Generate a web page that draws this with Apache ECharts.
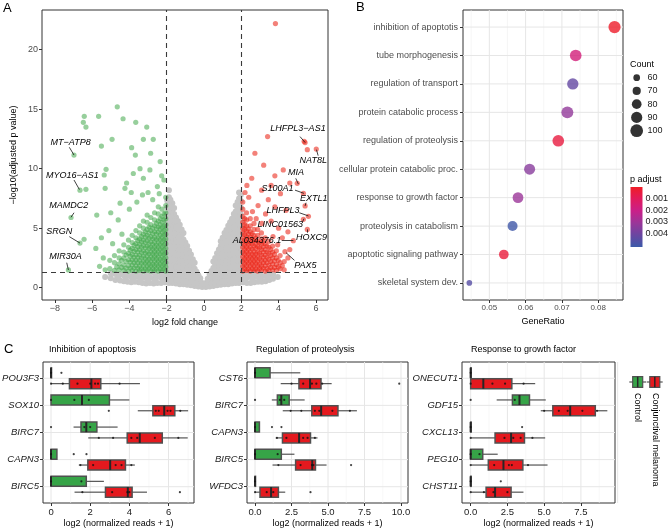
<!DOCTYPE html>
<html><head><meta charset="utf-8">
<script src="https://cdn.jsdelivr.net/npm/echarts@6/dist/echarts.min.js"></script>
<style>html,body{margin:0;padding:0;background:#fff}#c{width:669px;height:532px}</style>
</head><body><div id="c"></div>
<script>
const FONT = '"Liberation Sans", Arial, sans-serif';

// ===== Panel A: volcano =====
const fcCut = [-2, 2];
const padjCut = 1.3;
const volcanoXTicks = [-8, -6, -4, -2, 0, 2, 4, 6];
const volcanoYTicks = [0, 5, 10, 15, 20];
const grayCols = [
  [-0.1,[0.05,0.4]],[-0.3,[0.1,0.55,1.05]],[-0.5,[0.15,0.6,1.1,1.6,2.1]],[-0.7,[0.2,0.7,1.2,1.75,2.3,2.8]],
  [-0.9,[0.25,0.75,1.3,1.85,2.4,2.95,3.5]],[-1.1,[0.3,0.8,1.3,1.85,2.4,2.95,3.5,4.05,4.6]],
  [-1.3,[0.3,0.85,1.4,1.95,2.5,3.05,3.6,4.15,4.7,5.3]],[-1.5,[0.35,0.9,1.45,2.0,2.55,3.1,3.65,4.2,4.75,5.3,5.9]],
  [-1.7,[0.4,0.9,1.45,2.0,2.6,3.15,3.7,4.25,4.8,5.35,5.9,6.5,7.1]],
  [-1.88,[0.4,0.95,1.5,2.05,2.6,3.15,3.7,4.25,4.8,5.35,5.9,6.45,7.0,7.6,8.2]],
  [-0.2,[0.3,0.8]],[-0.4,[0.35,0.85,1.35]],[-0.6,[0.4,0.9,1.4,1.9,2.4]],[-0.8,[0.45,0.95,1.5,2.05,2.6,3.1]],
  [-1.0,[0.5,1.05,1.6,2.15,2.7,3.25,3.8]],[-1.2,[0.55,1.1,1.65,2.2,2.75,3.3,3.85,4.4,4.9]],
  [-1.4,[0.6,1.15,1.7,2.25,2.8,3.35,3.9,4.45,5.0,5.6]],[-1.6,[0.65,1.2,1.75,2.3,2.85,3.4,3.95,4.5,5.05,5.6,6.2,6.7]],
  [-1.8,[0.65,1.2,1.75,2.3,2.9,3.45,4.0,4.55,5.1,5.65,6.2,6.8,7.4]],
  [-1.97,[0.7,1.2,1.8,2.35,2.9,3.45,4.0,4.55,5.1,5.65,6.2,6.75,7.3]],
  [-2.1,[0.45,0.95]],[-2.3,[0.4,0.85,1.25]],[-2.5,[0.4,0.9]],[-2.7,[0.35,0.8,1.25]],[-2.9,[0.4,0.85]],
  [-3.1,[0.35,0.8,1.2]],[-3.3,[0.4,0.85]],[-3.5,[0.45,0.9,1.25]],[-3.7,[0.5,0.95]],[-3.9,[0.45,0.9]],
  [-4.1,[0.5,1.0]],[-4.3,[0.55,1.05]],[-4.5,[0.6,1.1]],[-4.75,[0.65,1.15]],[-5.0,[0.8,1.2]],[-5.3,[0.9]],
  [-2.2,[0.65,1.1]],[-2.6,[0.6,1.1]],[-3.0,[0.6,1.05]],[-3.4,[0.65,1.1]],[-3.8,[0.7,1.15]],[-4.2,[0.75,1.2]],[-4.6,[0.85]],
  [0.1,[0.05,0.4]],[0.3,[0.1,0.55,1.1]],[0.5,[0.15,0.6,1.1,1.65,2.2]],[0.7,[0.2,0.7,1.2,1.75,2.3,2.9]],
  [0.9,[0.25,0.75,1.3,1.85,2.4,2.95,3.5,3.9]],[1.1,[0.3,0.8,1.35,1.9,2.45,3.0,3.55,4.1,4.6]],
  [1.3,[0.3,0.85,1.4,1.95,2.5,3.05,3.6,4.15,4.7,5.2]],[1.5,[0.35,0.9,1.45,2.0,2.55,3.1,3.65,4.2,4.75,5.3,5.8]],
  [1.7,[0.4,0.9,1.45,2.0,2.55,3.1,3.65,4.2,4.75,5.3,5.85,6.4,6.9]],
  [1.88,[0.4,0.95,1.5,2.05,2.6,3.15,3.7,4.25,4.8,5.35,5.9,6.45,7.0,7.5,8.0]],
  [0.2,[0.3,0.75]],[0.4,[0.35,0.85,1.4]],[0.6,[0.4,0.9,1.4,1.95,2.5]],[0.8,[0.45,0.95,1.5,2.05,2.6,3.2]],
  [1.0,[0.5,1.05,1.6,2.15,2.7,3.25,3.8,4.2]],[1.2,[0.55,1.1,1.65,2.2,2.75,3.3,3.85,4.4,4.85]],
  [1.4,[0.6,1.15,1.7,2.25,2.8,3.35,3.9,4.45,5.0,5.5]],[1.6,[0.65,1.2,1.75,2.3,2.85,3.4,3.95,4.5,5.05,5.6,6.2]],
  [1.8,[0.65,1.2,1.75,2.3,2.9,3.45,4.0,4.55,5.1,5.65,6.2,6.7,7.2]],
  [1.97,[0.7,1.2,1.8,2.35,2.9,3.45,4.0,4.55,5.1,5.65,6.2,6.75,7.3,7.8]],
  [2.1,[0.45,0.95]],[2.3,[0.4,0.85,1.25]],[2.5,[0.4,0.9]],[2.7,[0.45,0.9,1.25]],[2.9,[0.5,0.95]],
  [3.1,[0.5,0.95]],[3.3,[0.55,1.0]],[3.5,[0.65,1.1]],[3.7,[0.75,1.15]],[3.95,[0.9]],
  [2.2,[0.65,1.1]],[2.6,[0.65,1.1]],[3.0,[0.7,1.15]],[3.4,[0.8,1.2]]
];
const greenCols = [
  [-2.05,[1.4,1.75,2.1,2.5,2.9,3.3,3.7,4.1,4.5,4.9,5.3,5.8,6.3,6.9,7.6]],
  [-2.25,[1.45,1.85,2.25,2.65,3.05,3.45,3.85,4.25,4.65,5.05,5.5,6.0,6.6]],
  [-2.45,[1.4,1.8,2.2,2.6,3.0,3.4,3.8,4.2,4.65,5.1,5.6,6.2,6.8]],
  [-2.65,[1.45,1.85,2.25,2.65,3.05,3.45,3.85,4.25,4.7,5.2,5.7,6.3]],
  [-2.85,[1.4,1.8,2.2,2.6,3.0,3.4,3.85,4.3,4.8,5.3,5.9]],
  [-3.05,[1.45,1.85,2.25,2.65,3.05,3.5,3.95,4.4,4.9,5.5,6.1]],
  [-3.25,[1.4,1.8,2.2,2.65,3.1,3.55,4.0,4.5,5.0,5.6]],
  [-3.45,[1.45,1.85,2.3,2.75,3.2,3.65,4.1,4.6,5.2]],
  [-3.65,[1.4,1.85,2.3,2.75,3.2,3.7,4.2,4.8]],
  [-3.85,[1.45,1.9,2.35,2.8,3.3,3.8,4.4]],
  [-4.05,[1.4,1.85,2.35,2.9,3.4,4.0]],
  [-4.3,[1.45,1.9,2.5,3.0,3.6]],
  [-4.55,[1.5,2.0,2.5,3.1]],
  [-4.8,[1.45,2.1,2.7]],
  [-5.05,[1.6,2.3]],
  [-5.3,[1.5]],
  [-2.15,[1.6,2.0,2.4,2.8,3.2,3.6,4.0,4.4,4.8,5.2,5.7,6.2]],
  [-2.35,[1.6,2.0,2.4,2.85,3.25,3.65,4.05,4.45,4.9,5.3,5.8]],
  [-2.55,[1.6,2.0,2.4,2.8,3.2,3.6,4.05,4.5,4.95,5.4]],
  [-2.75,[1.6,2.0,2.45,2.85,3.25,3.65,4.1,4.55,5.0]],
  [-2.95,[1.6,2.0,2.4,2.85,3.3,3.7,4.15,4.6,5.1]],
  [-3.15,[1.6,2.05,2.45,2.9,3.35,3.8,4.25,4.7]],
  [-3.35,[1.6,2.05,2.5,2.95,3.4,3.85,4.3]],
  [-3.55,[1.65,2.1,2.55,3.0,3.45,3.95]],
  [-3.75,[1.65,2.1,2.55,3.05,3.55]],
  [-3.95,[1.65,2.15,2.65,3.15]],
  [-4.18,[1.65,2.2,2.75]],
  [-4.42,[1.7,2.3]],
  [-4.68,[1.75]]
];
const greenSparse = [
  [-4.65,15.2],[-6.42,14.4],[-5.65,14.4],[-6.47,13.9],[-6.33,13.5],[-4.34,14.2],[-3.66,13.9],[-3.07,13.5],
  [-4.93,12.47],[-3.25,12.47],[-2.72,12.47],[-5.5,11.9],[-3.88,11.77],[-3.68,11.15],[-2.86,11.3],[-3.43,10.0],
  [-5.25,9.95],[-5.35,9.47],[-3.79,9.6],[-3.25,9.2],[-2.27,9.4],[-2.15,9.05],[-4.15,8.8],[-4.24,8.35],[-5.3,8.35],
  [-5.75,6.1],[-2.5,8.5],[-3.0,8.0],[-2.75,7.4],[-3.6,7.2],[-4.0,6.6],[-4.6,5.7],[-5.1,4.8],[-5.5,4.2],[-5.8,3.3],
  [-3.3,7.8],[-2.4,7.9],[-4.5,7.1],[-5.0,6.3],[-2.9,9.9],[-2.35,10.6],[-3.9,8.0],[-4.4,4.5],[-4.9,3.7],[-5.4,2.5],
  [-5.6,1.8],[-6.97,11.15],[-6.65,8.2],[-6.33,8.27],[-7.13,5.9],[-6.65,3.75],[-6.43,4.07],[-7.27,1.49]
];
const redCols = [
  [2.08,[1.4,1.8,2.2,2.6,3.0,3.4,3.8,4.2,4.6,5.0,5.5,6.0,6.6,7.2]],
  [2.28,[1.45,1.85,2.25,2.65,3.05,3.45,3.85,4.3,4.75,5.2,5.7,6.3]],
  [2.48,[1.4,1.8,2.2,2.6,3.0,3.4,3.8,4.25,4.7,5.2,5.8]],
  [2.68,[1.45,1.85,2.25,2.65,3.05,3.5,3.95,4.4,4.9,5.4]],
  [2.88,[1.4,1.8,2.2,2.6,3.0,3.45,3.9,4.4,4.9]],
  [3.08,[1.45,1.85,2.3,2.75,3.2,3.65,4.1,4.6]],
  [3.28,[1.4,1.85,2.3,2.75,3.2,3.7,4.2]],
  [3.48,[1.45,1.9,2.4,2.9,3.4,3.9]],
  [3.68,[1.5,2.0,2.5,3.0,3.5]],
  [3.88,[1.45,1.95,2.5,3.1]],
  [4.08,[1.6,2.1,2.7]],
  [4.3,[1.5,2.2]],
  [2.18,[1.6,2.0,2.4,2.8,3.2,3.6,4.0,4.45,4.9,5.3,5.8]],
  [2.38,[1.6,2.05,2.45,2.85,3.25,3.65,4.05,4.5,4.95]],
  [2.58,[1.6,2.0,2.4,2.8,3.25,3.7,4.1,4.55]],
  [2.78,[1.6,2.05,2.45,2.85,3.3,3.7,4.15]],
  [2.98,[1.6,2.0,2.45,2.9,3.35,3.8]],
  [3.18,[1.65,2.1,2.55,3.0,3.45,3.9]],
  [3.38,[1.6,2.1,2.55,3.0,3.5]],
  [3.58,[1.7,2.2,2.7,3.2]],
  [3.78,[1.7,2.25,2.8]],
  [3.98,[1.75,2.3]],
  [4.2,[1.85]]
];
const redSparse = [
  [3.83,22.2],[3.41,12.7],[2.73,11.3],[2.56,9.2],[3.8,9.4],[4.25,9.9],[3.09,8.2],[3.45,7.4],[2.4,7.6],[2.9,6.9],
  [3.3,6.2],[3.8,6.8],[4.1,7.9],[4.4,6.5],[3.6,5.6],[4.0,5.0],[4.5,4.7],[2.2,8.0],[2.6,6.4],[3.1,5.4],[4.2,4.2],
  [3.7,4.3],[4.6,3.2],[2.3,8.6],[3.2,10.3],[4.6,8.8],[2.8,5.8],[3.95,3.6],[4.5,2.5],[3.6,8.6],
  [5.42,12.2],[5.54,11.6],[5.37,12.3],[6.02,11.65],[5.0,8.77],[5.33,7.93],[5.42,6.87],[5.6,6.0],[5.33,5.75],
  [5.54,4.9],[4.79,3.95],[4.34,3.03]
];
const geneNames = ['MT\u2212ATP8','MYO16\u2212AS1','MAMDC2','SRGN','MIR30A','LHFPL3\u2212AS1','NAT8L','MIA','S100A1',
  'EXTL1','LHFPL3','LINC01563','HOXC9','AL034376.1','PAX5'];
const geneTextPos = [[-7.15,12.18],[-7.06,9.39],[-7.25,6.87],[-7.76,4.76],[-7.43,2.6],[5.04,13.4],[5.86,10.67],
  [4.93,9.7],[3.94,8.35],[5.88,7.51],[4.24,6.45],[4.09,5.33],[5.77,4.24],[2.84,3.95],[5.44,1.85]];
const geneSegments = [[-7.22,11.8,-6.97,11.15],[-6.97,9.05,-6.68,8.25],[-6.97,6.3,-7.13,5.92],[-7.22,4.29,-6.65,3.75],
  [-7.36,2.1,-7.27,1.49],[5.15,12.7,5.42,12.2],[6.12,11.1,6.03,11.6],[4.92,9.19,5.06,8.71],[4.88,8.2,5.36,7.93],
  [5.47,7.14,5.42,6.87],[5.11,6.3,5.6,6.03],[5.29,5.55,5.36,5.8],[5.54,4.62,5.54,4.9],[4.17,3.95,4.79,3.95],
  [4.4,2.94,4.85,2.3]];

// ===== Panel B: GO dot plot =====
const goTerms = ['inhibition of apoptotis','tube morphogenesis','regulation of transport','protein catabolic process',
  'regulation of proteolysis','cellular protein catabolic proc.','response to growth factor','proteolysis in catabolism',
  'apoptotic signaling pathway','skeletal system dev.'];
const geneRatio = [0.0845,0.0738,0.0730,0.0715,0.0690,0.0611,0.0579,0.0564,0.0540,0.0445];
const goCount = [97,93,91,95,93,89,87,82,80,53];
const pAdjust = [0.0001,0.0017,0.0043,0.0033,0.0005,0.0035,0.0031,0.0051,0.0004,0.0046];
const ratioTicks = [0.05,0.06,0.07,0.08];
const ratioMinor = [0.045,0.055,0.065,0.075,0.085];
const countBreaks = [60,70,80,90,100];
const pBreaks = [0.001,0.002,0.003,0.004];
const pRange = [0, 0.0052];
const pColors = ['#ef1d26','#e11b5d','#c92089','#9a3699','#6a46a1','#3b5aa9'];

// ===== Panel C: boxplots  [min, q1, median, q3, max] =====
const c1Title = 'Inhibition of apoptosis', c2Title = 'Regulation of proteolysis', c3Title = 'Response to growth factor';
const c1Genes = ['POU3F3','SOX10','BIRC7','CAPN3','BIRC5'];
const c1Ctrl = [[0,0,0,0.02,0.02],[0,0,1.58,2.98,4.0],[1.15,1.53,1.8,2.34,3.4],[0,0,0,0.3,0.3],[0,0,0,1.8,2.7]];
const c1Mel = [[0,0.94,2.06,2.54,4.54],[4.43,5.2,5.78,6.32,7.0],[1.9,3.89,4.53,5.68,6.98],[1.42,1.88,3.02,3.8,4.28],[1.2,2.78,3.92,4.14,4.9]];
const c1CtrlDots = [[0,0.53],[0,1.19,1.93],[0,1.7,2.0],[0,1.16,1.81],[0,1.55]];
const c1MelDots = [[0,0.6,1.35,2.0,2.25,2.4,3.5],[2.95,5.35,5.5,5.95,6.1,6.6],[2.44,3.17,4.1,4.4,5.3,6.5],[1.5,2.15,3.3,3.6,4.1],[1.6,3.12,3.9,4.0,6.58]];
const c2Genes = ['CST6','BIRC7','CAPN3','BIRC5','WFDC3'];
const c2Ctrl = [[0,0,0,1.03,3.1],[1.15,1.53,1.8,2.34,3.4],[0,0,0,0.3,0.3],[0,0,0,1.8,2.7],[0,0,0,0.02,0.02]];
const c2Mel = [[1.76,3.01,3.77,4.52,5.25],[1.9,3.89,4.53,5.68,6.98],[1.42,1.88,3.02,3.8,4.28],[1.2,2.78,3.92,4.14,4.9],[0,0.34,1.1,1.6,2.07]];
const c2CtrlDots = [[0],[0,1.7,2.0],[0,1.16,1.81],[0,1.55],[0]];
const c2MelDots = [[2.5,3.3,3.9,4.2,4.6,9.88],[2.44,3.17,4.1,4.4,5.3,6.5],[1.5,2.15,3.3,3.6,4.1],[1.6,3.12,3.9,4.0,6.58],[0,0.8,1.25,3.8]];
const c3Genes = ['ONECUT1','GDF15','CXCL13','PEG10','CHST11'];
const c3Ctrl = [[0,0,0,0.02,0.02],[1.77,2.84,3.32,4.0,5.11],[0,0,0,0.02,0.02],[0,0,0,0.82,1.84],[0,0,0,0.02,0.02]];
const c3Mel = [[0,0,0.86,2.8,4.39],[4.77,5.59,6.77,8.48,9.3],[0,1.66,2.75,3.66,5.07],[0,1.2,2.23,3.55,5.23],[0,1.05,1.66,2.75,3.59]];
const c3CtrlDots = [[0],[0,3.0],[0,3.5],[0,0.6],[0,2.05]];
const c3MelDots = [[0,1.48,2.34,3.6],[5.0,6.0,6.6,7.6,8.6],[0,2.3,2.9,3.4,4.2],[0,1.6,2.6,2.8,3.9],[0,0.9,1.55,2.5]];
const c1Ticks = [0,2,4,6], c1Minor = [1,3,5,7];
const c23Ticks = [0,2.5,5,7.5,10], c23Minor = [1.25,3.75,6.25,8.75];
const groupNames = ['Control','Conjunctival melanoma'];
const groupColors = ['#36a447','#e4191e'];

// ===== helpers =====
const flat = cols => { const o = []; cols.forEach(([x, ys]) => ys.forEach(y => o.push([x, y]))); return o; };
const minus = v => (v < 0 ? '\u2212' + Math.abs(v) : String(v));
const TXT = '#4d4d4d', DARK = '#1a1a1a';
const NOLINE = { show: false, onZero: false };

function gridLines(i, xs, ys, color, w) {
  return { type: 'custom', xAxisIndex: i, yAxisIndex: i, silent: true, z: 1, data: [0],
    renderItem: (params, api) => {
      const cs = params.coordSys, ch = [];
      xs.forEach(v => { const x = api.coord([v, 0])[0];
        ch.push({ type: 'line', shape: { x1: x, y1: cs.y, x2: x, y2: cs.y + cs.height }, style: { stroke: color, lineWidth: w } }); });
      ys.forEach(v => { const y = api.coord([0, v])[1];
        ch.push({ type: 'line', shape: { x1: cs.x, y1: y, x2: cs.x + cs.width, y2: y }, style: { stroke: color, lineWidth: w } }); });
      return { type: 'group', children: ch };
    } };
}
const BOX_H = 0.37, DODGE = 0.2;
function boxSeries(i, stats, off, color) {
  return { type: 'custom', xAxisIndex: i, yAxisIndex: i, silent: true, z: 3,
    data: stats.map((s, k) => [k, off].concat(s)),
    renderItem: (params, api) => {
      const yc = api.value(0) + api.value(1);
      const v = [2, 3, 4, 5, 6].map(d => api.value(d));
      const X = val => api.coord([val, yc])[0];
      const ya = api.coord([0, yc - BOX_H / 2])[1], yb = api.coord([0, yc + BOX_H / 2])[1], ym = api.coord([0, yc])[1];
      const t = Math.min(ya, yb), b = Math.max(ya, yb);
      const [xl, x1, xm, x3, xh] = v.map(X);
      return { type: 'group', children: [
        { type: 'line', shape: { x1: xl, y1: ym, x2: x1, y2: ym }, style: { stroke: '#333', lineWidth: 1 } },
        { type: 'line', shape: { x1: x3, y1: ym, x2: xh, y2: ym }, style: { stroke: '#333', lineWidth: 1 } },
        { type: 'rect', shape: { x: x1, y: t, width: Math.max(x3 - x1, 0.5), height: b - t }, style: { fill: color, stroke: '#505050', lineWidth: 1.5 } },
        { type: 'line', shape: { x1: xm, y1: t, x2: xm, y2: b }, style: { stroke: '#262626', lineWidth: 2 } }
      ] };
    } };
}
function dotSeries(i, dots, off) {
  const d = []; dots.forEach((arr, k) => arr.forEach(x => d.push([x, k + off])));
  return { type: 'scatter', xAxisIndex: i, yAxisIndex: i, data: d, symbolSize: 2.2, silent: true, z: 4,
    itemStyle: { color: '#111' } };
}
function xAxisC(i, min, max, ticks, fmt) {
  return { type: 'value', gridIndex: i, min, max, axisLine: NOLINE, splitLine: { show: false },
    axisTick: { show: true, customValues: ticks, length: 3, lineStyle: { color: '#333' } },
    axisLabel: { customValues: ticks, formatter: fmt, fontSize: 9.5, color: DARK, margin: 4, fontFamily: FONT },
    name: 'log2 (normalized reads + 1)', nameLocation: 'middle', nameGap: 16,
    nameTextStyle: { fontSize: 9, color: '#000', fontFamily: FONT } };
}
function yAxisC(i, genes) {
  return { type: 'value', gridIndex: i, min: -0.6, max: 4.6, inverse: true, axisLine: NOLINE, splitLine: { show: false },
    axisTick: { show: true, customValues: [0, 1, 2, 3, 4], length: 3, lineStyle: { color: '#333' } },
    axisLabel: { customValues: [0, 1, 2, 3, 4], formatter: v => genes[Math.round(v)], fontSize: 9.5, fontStyle: 'italic',
      color: DARK, margin: 4, fontFamily: FONT } };
}
const gridBox = (left, top, width, height) => ({ left, top, width, height, show: true, borderColor: '#333', borderWidth: 1,
  backgroundColor: '#fff', containLabel: false, outerBoundsMode: 'none' });

const series = [];
// A
series.push({ type: 'scatter', xAxisIndex: 0, yAxisIndex: 0, data: flat(grayCols), symbolSize: 6, silent: true, z: 2,
  itemStyle: { color: '#c6c6c6', opacity: 1 },
  markLine: { silent: true, symbol: 'none', label: { show: false }, lineStyle: { type: [5, 4], color: '#3a3a3a', width: 1.1 },
    data: [{ xAxis: fcCut[0] }, { xAxis: fcCut[1] }, { yAxis: padjCut }] } });
series.push({ type: 'scatter', xAxisIndex: 0, yAxisIndex: 0, data: flat(greenCols).concat(greenSparse), symbolSize: 5.2, silent: true, z: 3,
  itemStyle: { color: 'rgba(62,166,72,0.68)' } });
series.push({ type: 'scatter', xAxisIndex: 0, yAxisIndex: 0, data: flat(redCols).concat(redSparse), symbolSize: 5.2, silent: true, z: 3,
  itemStyle: { color: 'rgba(234,36,22,0.72)' } });
series.push({ type: 'lines', coordinateSystem: 'cartesian2d', xAxisIndex: 0, yAxisIndex: 0, silent: true, z: 5,
  lineStyle: { color: '#111', width: 0.8, opacity: 1 },
  data: geneSegments.map(s => ({ coords: [[s[0], s[1]], [s[2], s[3]]] })) });
series.push({ type: 'scatter', xAxisIndex: 0, yAxisIndex: 0, silent: true, z: 6, symbolSize: 0.1,
  itemStyle: { color: '#ffffff', opacity: 1 },
  data: geneTextPos.map((p, k) => ({ value: p, name: geneNames[k] })),
  label: { show: true, position: 'inside', formatter: p => p.name, fontSize: 9, fontStyle: 'italic', color: '#000',
    opacity: 1, fontFamily: FONT } });
// B
series.push(gridLines(1, ratioMinor, [], '#f0f0f0', 0.6));
series.push(gridLines(1, ratioTicks, goTerms.map((t, k) => k), '#e6e6e6', 1));
const bIndex = series.length;
series.push({ type: 'scatter', xAxisIndex: 1, yAxisIndex: 1, silent: true, z: 4,
  data: goTerms.map((t, k) => [geneRatio[k], k, pAdjust[k], goCount[k]]),
  symbolSize: v => 6.7 + 0.15 * (v[3] - 60) });
// count legend
series.push({ type: 'scatter', xAxisIndex: 5, yAxisIndex: 5, silent: true, itemStyle: { color: '#000' },
  data: countBreaks.map((c, k) => [0, k, c]), symbolSize: v => 6.7 + 0.15 * (v[2] - 60) });
// colorbar
series.push({ type: 'custom', xAxisIndex: 6, yAxisIndex: 6, silent: true, data: [0],
  renderItem: (params, api) => {
    const cs = params.coordSys;
    return { type: 'rect', shape: { x: cs.x, y: cs.y, width: cs.width, height: cs.height },
      style: { fill: new echarts.graphic.LinearGradient(0, 0, 0, 1, pColors.map((c, k) => ({ offset: k / (pColors.length - 1), color: c }))) } };
  } });
// C
[[2, c1Ctrl, c1Mel, c1CtrlDots, c1MelDots, c1Minor, c1Ticks], [3, c2Ctrl, c2Mel, c2CtrlDots, c2MelDots, c23Minor, c23Ticks],
 [4, c3Ctrl, c3Mel, c3CtrlDots, c3MelDots, c23Minor, c23Ticks]].forEach(([i, ctrl, mel, cd, md, minor, ticks]) => {
  series.push(gridLines(i, minor, [], '#f3f3f3', 0.6));
  series.push(gridLines(i, ticks, [0, 1, 2, 3, 4], '#e6e6e6', 1));
  series.push(boxSeries(i, ctrl, -DODGE, groupColors[0]));
  series.push(boxSeries(i, mel, DODGE, groupColors[1]));
  series.push(dotSeries(i, cd, -DODGE));
  series.push(dotSeries(i, md, DODGE));
});

const t = (text, x, y, size, extra) => Object.assign({ type: 'text', x, y, style: Object.assign({ text, fontSize: size, fontFamily: FONT, fill: '#000', textAlign: 'left', textVerticalAlign: 'middle' }, extra || {}) });

const option = {
  animation: false,
  textStyle: { fontFamily: FONT },
  grid: [gridBox(42, 10, 286, 290), gridBox(463, 10, 160, 290), gridBox(43, 362, 151, 141), gridBox(247, 362, 161, 141),
    gridBox(462, 362, 153, 141),
    { left: 630, top: 71, width: 13.4, height: 66.3, show: false, outerBoundsMode: 'none' },
    { left: 630.5, top: 187, width: 12, height: 60, show: false, outerBoundsMode: 'none' }],
  xAxis: [
    { type: 'value', gridIndex: 0, min: -8.686, max: 6.649, axisLine: NOLINE, splitLine: { show: false },
      axisTick: { customValues: volcanoXTicks, length: 3, lineStyle: { color: '#333' } },
      axisLabel: { customValues: volcanoXTicks, formatter: minus, fontSize: 9, color: TXT, margin: 4 },
      name: 'log2 fold change', nameLocation: 'middle', nameGap: 16, nameTextStyle: { fontSize: 9, color: '#000' } },
    { type: 'value', gridIndex: 1, min: 0.04275, max: 0.08683, axisLine: NOLINE, splitLine: { show: false },
      axisTick: { customValues: ratioTicks, length: 3, lineStyle: { color: '#333' } },
      axisLabel: { customValues: ratioTicks, formatter: v => v.toFixed(2), fontSize: 8, color: TXT, margin: 4 },
      name: 'GeneRatio', nameLocation: 'middle', nameGap: 15, nameTextStyle: { fontSize: 9, color: '#000' } },
    xAxisC(2, -0.41, 7.30, c1Ticks, v => String(v)),
    xAxisC(3, -0.55, 10.48, c23Ticks, v => v.toFixed(1)),
    xAxisC(4, -0.59, 9.82, c23Ticks.slice(0, 4), v => v.toFixed(1)),
    { type: 'value', gridIndex: 5, min: -1, max: 1, show: false },
    { type: 'value', gridIndex: 6, min: 0, max: 1, show: false }
  ],
  yAxis: [
    { type: 'value', gridIndex: 0, min: -1.034, max: 23.34, axisLine: NOLINE, splitLine: { show: false },
      axisTick: { customValues: volcanoYTicks, length: 3, lineStyle: { color: '#333' } },
      axisLabel: { customValues: volcanoYTicks, fontSize: 9, color: TXT, margin: 4 },
      name: '\u2212log10(adjusted p value)', nameLocation: 'middle', nameGap: 24, nameRotate: 90,
      nameTextStyle: { fontSize: 9, color: '#000' } },
    { type: 'value', gridIndex: 1, min: -0.6, max: 9.6, inverse: true, axisLine: NOLINE, splitLine: { show: false },
      axisTick: { customValues: goTerms.map((x, k) => k), length: 3, lineStyle: { color: '#333' } },
      axisLabel: { customValues: goTerms.map((x, k) => k), formatter: v => goTerms[Math.round(v)], fontSize: 9, color: TXT, margin: 5 } },
    yAxisC(2, c1Genes), yAxisC(3, c2Genes), yAxisC(4, c3Genes),
    { type: 'category', gridIndex: 5, data: countBreaks.map(String), inverse: true, position: 'right',
      axisLine: NOLINE, axisTick: { show: false }, splitLine: { show: false },
      axisLabel: { fontSize: 9, color: DARK, margin: 4 } },
    { type: 'value', gridIndex: 6, min: pRange[0], max: pRange[1], inverse: true, position: 'right',
      axisLine: NOLINE, splitLine: { show: false },
      axisTick: { show: true, inside: true, customValues: pBreaks, length: 2.5, lineStyle: { color: '#fff' } },
      axisLabel: { customValues: pBreaks, formatter: v => v.toFixed(3), fontSize: 9, color: DARK, margin: 3 } }
  ],
  visualMap: [{ type: 'continuous', show: false, seriesIndex: bIndex, dimension: 2, min: pRange[0], max: pRange[1],
    inRange: { color: pColors } }],
  series,
  graphic: [
    t('A', 3, 8, 13), t('B', 356, 7, 13), t('C', 4, 349, 13),
    t(c1Title, 49, 350, 9), t(c2Title, 256, 350, 9), t(c3Title, 471, 350, 9),
    t('Count', 630, 65, 9), t('p adjust', 630, 180, 9),
    { type: 'line', shape: { x1: 629.3, y1: 382, x2: 646, y2: 382 }, style: { stroke: '#333', lineWidth: 1 } },
    { type: 'rect', shape: { x: 632.7, y: 376.7, width: 10, height: 10.6 }, style: { fill: groupColors[0], stroke: '#505050', lineWidth: 1.2 } },
    { type: 'line', shape: { x1: 637.7, y1: 376.7, x2: 637.7, y2: 387.3 }, style: { stroke: '#262626', lineWidth: 1.5 } },
    { type: 'line', shape: { x1: 646.7, y1: 382, x2: 662.7, y2: 382 }, style: { stroke: '#333', lineWidth: 1 } },
    { type: 'rect', shape: { x: 649.8, y: 376.7, width: 10, height: 10.6 }, style: { fill: groupColors[1], stroke: '#505050', lineWidth: 1.2 } },
    { type: 'line', shape: { x1: 654.8, y1: 376.7, x2: 654.8, y2: 387.3 }, style: { stroke: '#262626', lineWidth: 1.5 } },
    Object.assign(t(groupNames[0], 637.7, 393, 9), { rotation: -Math.PI / 2 }),
    Object.assign(t(groupNames[1], 655, 393, 9), { rotation: -Math.PI / 2 })
  ]
};
const chart = echarts.init(document.getElementById('c'), null, { renderer: 'canvas' });
chart.setOption(option);
</script></body></html>
